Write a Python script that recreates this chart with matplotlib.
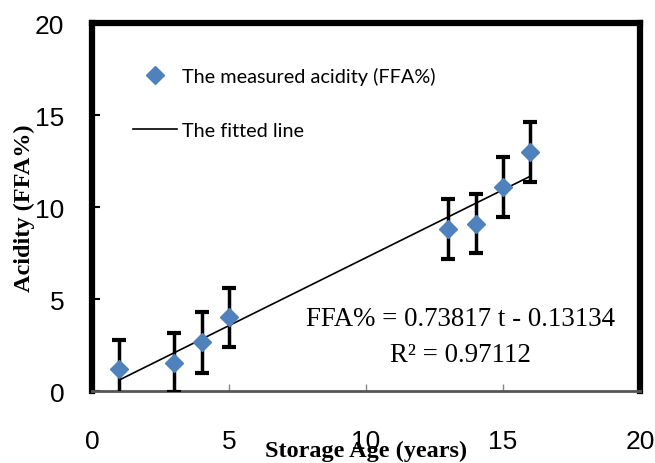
import matplotlib.pyplot as plt
import numpy as np

# storage age (years) and measured acidity (FFA%)
age = [1, 3, 4, 5, 13, 14, 15, 16]
ffa = [1.2, 1.55, 2.65, 4.0, 8.8, 9.1, 11.1, 13.0]
err = [1.6, 1.6, 1.65, 1.63, 1.62, 1.62, 1.65, 1.62]

slope = 0.73817
intercept = -0.13134
fit_x = [1, 16]

xticks = [0, 5, 10, 15, 20]
yticks = [0, 5, 10, 15, 20]

fig = plt.figure(figsize=(6.55, 4.64), dpi=100)
ax = fig.add_axes([0.1405, 0.155, 0.8365, 0.793])

fit_y = [slope * t + intercept for t in fit_x]
ax.plot(fit_x, fit_y, color='black', lw=1.2, label='The fitted line', zorder=2)
ax.errorbar(age, ffa, yerr=err, fmt='none', ecolor='black', elinewidth=2.5,
            capsize=5, capthick=3, zorder=3)
ax.plot(age, ffa, 'D', color='#4F81BD', markersize=9.5, ls='none',
        label='The measured acidity (FFA%)', zorder=4)

ax.set_xlim(0, 20)
ax.set_ylim(0, 20)
ax.set_xticks(xticks)
ax.set_yticks(yticks)

for s in ['left', 'top', 'right']:
    ax.spines[s].set_linewidth(4.5)
    ax.spines[s].set_color('black')
ax.spines['bottom'].set_linewidth(2)
ax.spines['bottom'].set_color('#555555')

ax.tick_params(axis='y', direction='in', length=6, width=1.5, pad=20,
               labelsize=19)
ax.tick_params(axis='x', direction='in', length=5, width=1, color='#888888',
               pad=27, labelsize=19)
for lab in ax.get_xticklabels() + ax.get_yticklabels():
    lab.set_family('Liberation Sans')

ax.set_xlabel('Storage Age (years)', family='Liberation Serif',
              fontweight='bold', fontsize=17.5, labelpad=-9)
ax.set_ylabel('Acidity (FFA%)', family='Liberation Serif',
              fontweight='bold', fontsize=17.5, labelpad=0)

h, l = ax.get_legend_handles_labels()
ax.legend([h[1], h[0]], [l[1], l[0]], loc='upper left',
          bbox_to_anchor=(0.043, 0.93), frameon=False,
          prop={'family': 'Lato', 'size': 14.3}, labelspacing=1.85,
          handlelength=2.2, handletextpad=0.25)

ax.text(0.672, 0.196, 'FFA% = 0.73817 t - 0.13134', transform=ax.transAxes,
        ha='center', va='center', family='Liberation Serif', fontsize=19.4)
ax.text(0.672, 0.10, 'R² = 0.97112', transform=ax.transAxes,
        ha='center', va='center', family='Liberation Serif', fontsize=19.4)

fig.savefig('out.png', dpi=100)
